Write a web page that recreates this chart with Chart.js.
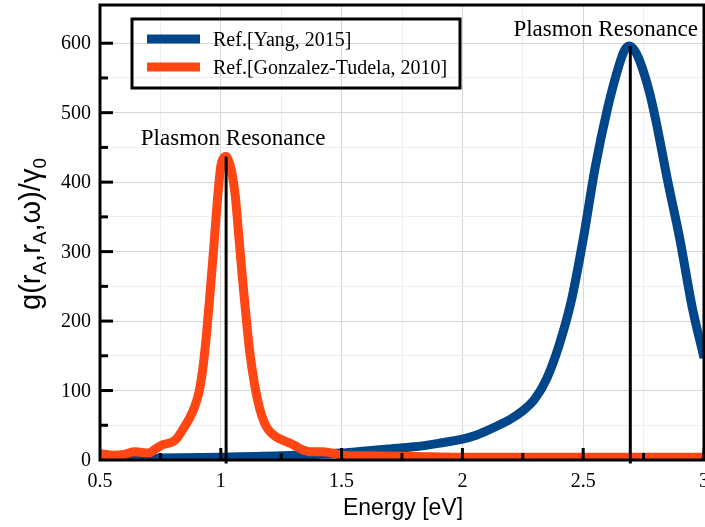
<!DOCTYPE html>
<html>
<head>
<meta charset="utf-8">
<script src="https://cdn.jsdelivr.net/npm/chart.js@4.4.0/dist/chart.umd.min.js"></script>
<style>
html,body{margin:0;padding:0;background:#fff;}
#wrap{width:705px;height:527px;position:relative;}
</style>
</head>
<body>
<div id="wrap"><canvas id="c" width="705" height="527"></canvas></div>
<script>
// ---- data ----
const yangLabel = 'Ref.[Yang, 2015]';
const yangEnergy = [0.5, 0.75, 1.0, 1.25, 1.5, 1.6, 1.7, 1.8, 1.9, 2.0, 2.05, 2.1, 2.15, 2.2, 2.25, 2.3, 2.35, 2.4, 2.45, 2.5, 2.55, 2.6, 2.65, 2.67, 2.69, 2.71, 2.73, 2.77, 2.8, 2.85, 2.9, 2.95, 3.0];
const yangG = [2, 3, 4, 6, 10, 13, 16, 19, 24, 30, 35, 42, 50, 59, 71, 88, 118, 165, 228, 318, 422, 505, 570, 589, 596, 591, 578, 535, 490, 401, 318, 222, 147];

const tudelaLabel = 'Ref.[Gonzalez-Tudela, 2010]';
const tudelaEnergy = [0.5, 0.55, 0.6, 0.64, 0.67, 0.7, 0.73, 0.76, 0.8, 0.82, 0.85, 0.87, 0.89, 0.91, 0.925, 0.94, 0.955, 0.97, 0.985, 1.0, 1.01, 1.02, 1.03, 1.045, 1.06, 1.075, 1.09, 1.105, 1.12, 1.14, 1.16, 1.18, 1.2, 1.23, 1.26, 1.3, 1.33, 1.37, 1.42, 1.46, 1.5, 1.6, 1.8, 2.0, 2.5, 3.0];
const tudelaG = [9, 7, 8, 12, 11, 10, 16, 22, 26, 32, 48, 60, 75, 98, 130, 178, 238, 302, 370, 423, 434, 437, 433, 415, 380, 320, 260, 205, 155, 108, 75, 54, 42, 33, 28, 22, 16, 12, 12, 10, 7, 6, 5, 4, 4, 4];

const resonanceEnergy = [1.022, 2.695];
const resonanceG = [437, 596];
const resonanceText = ['Plasmon Resonance', 'Plasmon Resonance'];

const xTickValues = [0.5, 1, 1.5, 2, 2.5, 3];
const xTickLabels = ['0.5', '1', '1.5', '2', '2.5', '3'];
const yTickValues = [0, 100, 200, 300, 400, 500, 600];
const yTickLabels = ['0', '100', '200', '300', '400', '500', '600'];
const xTitle = 'Energy [eV]';

const BLUE = '#00468b';
const ORANGE = '#ff4613';
const SERIF = '"Liberation Serif", "Times New Roman", serif';
const SANS = '"Liberation Sans", Arial, sans-serif';

const toXY = (xs, ys) => xs.map((x, i) => ({x: x, y: ys[i]}));

const datasets = [
  {label: yangLabel, data: toXY(yangEnergy, yangG), borderColor: BLUE, borderWidth: 9, pointRadius: 0, cubicInterpolationMode: 'monotone', order: 1, borderCapStyle: 'butt'},
  {label: tudelaLabel, data: toXY(tudelaEnergy, tudelaG), borderColor: ORANGE, borderWidth: 9, pointRadius: 0, cubicInterpolationMode: 'monotone', order: 0, borderCapStyle: 'butt'}
];
resonanceEnergy.forEach((e, i) => {
  datasets.push({label: '', data: [{x: e, y: -5}, {x: e, y: resonanceG[i]}], borderColor: '#000', borderWidth: 3, pointRadius: 0, order: -1, clip: false});
});

const isMajorX = v => Math.abs(v * 2 - Math.round(v * 2)) < 1e-6;

const overlay = {
  id: 'overlay',
  afterDatasetsDraw(chart) {
    const ctx = chart.ctx;
    const a = chart.chartArea;
    const xs = chart.scales.x, ys = chart.scales.y;
    ctx.save();
    // frame
    ctx.strokeStyle = '#000';
    ctx.lineWidth = 3;
    ctx.strokeRect(a.left, a.top, a.right - a.left, a.bottom - a.top);
    // inward ticks
    ys.ticks.forEach(t => {
      if (t.value <= 0 || t.value >= ys.max) return;
      const p = ys.getPixelForValue(t.value);
      const len = (t.value % 100 === 0) ? 13 : 8;
      ctx.beginPath(); ctx.moveTo(a.left, p); ctx.lineTo(a.left + len, p); ctx.stroke();
    });
    xs.ticks.forEach(t => {
      if (t.value <= xs.min) return;
      const p = xs.getPixelForValue(t.value);
      const len = isMajorX(t.value) ? 12 : 7;
      ctx.beginPath(); ctx.moveTo(p, a.bottom); ctx.lineTo(p, a.bottom - len); ctx.stroke();
    });
    // tick labels
    ctx.fillStyle = '#000';
    ctx.font = '20px ' + SERIF;
    ctx.textAlign = 'right';
    ctx.textBaseline = 'middle';
    yTickValues.forEach((v, i) => ctx.fillText(yTickLabels[i], a.left - 9, ys.getPixelForValue(v) + 1));
    ctx.textAlign = 'center';
    ctx.textBaseline = 'alphabetic';
    xTickValues.forEach((v, i) => ctx.fillText(xTickLabels[i], xs.getPixelForValue(v), a.bottom + 27));
    // annotations
    ctx.font = '23px ' + SERIF;
    ctx.textAlign = 'center';
    ctx.fillText(resonanceText[0], xs.getPixelForValue(resonanceEnergy[0]) + 7, 145);
    ctx.textAlign = 'right';
    ctx.fillText(resonanceText[1], a.right - 6, 36);
    // legend (transparent box)
    ctx.lineWidth = 3;
    ctx.strokeStyle = '#000';
    ctx.strokeRect(132, 19, 328, 69);
    const legendItems = chart.data.datasets.filter(d => d.label);
    legendItems.forEach((d, i) => {
      const y = 39 + i * 28;
      ctx.strokeStyle = d.borderColor;
      ctx.lineWidth = 9;
      ctx.lineCap = 'butt';
      ctx.beginPath(); ctx.moveTo(147, y); ctx.lineTo(200, y); ctx.stroke();
      ctx.fillStyle = '#000';
      ctx.font = '20px ' + SERIF;
      ctx.textAlign = 'left';
      ctx.fillText(d.label, 213, y + 7);
    });
    // x title
    ctx.font = '23px ' + SANS;
    ctx.textAlign = 'center';
    ctx.fillText(xTitle, 403, 515);
    // y title with subscripts
    const parts = [['g(r', 0], ['A', 1], [',r', 0], ['A', 1], [',ω)/γ', 0], ['0', 1]];
    const mainF = '29px ' + SANS, subF = '19px ' + SANS;
    let total = 0;
    parts.forEach(p => { ctx.font = p[1] ? subF : mainF; total += ctx.measureText(p[0]).width; });
    ctx.translate(40, 234);
    ctx.rotate(-Math.PI / 2);
    ctx.textAlign = 'left';
    let cx = -total / 2;
    parts.forEach(p => {
      ctx.font = p[1] ? subF : mainF;
      ctx.fillText(p[0], cx, p[1] ? 6 : 0);
      cx += ctx.measureText(p[0]).width;
    });
    ctx.restore();
  }
};

new Chart(document.getElementById('c'), {
  type: 'line',
  data: {datasets: datasets},
  options: {
    responsive: false,
    animation: false,
    events: [],
    layout: {padding: {top: 5, right: 1, left: 0, bottom: 0}},
    plugins: {legend: {display: false}, tooltip: {enabled: false}},
    scales: {
      x: {
        type: 'linear', min: 0.5, max: 3.0,
        afterFit(s) { s.height = 67; },
        border: {display: false},
        grid: {
          drawTicks: false,
          color: c => isMajorX(c.tick.value) ? '#d6d6d6' : '#eeeeee',
          lineWidth: 1
        },
        ticks: {stepSize: 0.25, display: false, autoSkip: false}
      },
      y: {
        type: 'linear', min: 0, max: 655,
        afterFit(s) { s.width = 100; },
        border: {display: false},
        grid: {
          drawTicks: false,
          color: c => (c.tick.value % 100 === 0) ? '#d6d6d6' : '#eeeeee',
          lineWidth: 1
        },
        ticks: {stepSize: 50, display: false, autoSkip: false}
      }
    }
  },
  plugins: [overlay]
});
</script>
</body>
</html>
